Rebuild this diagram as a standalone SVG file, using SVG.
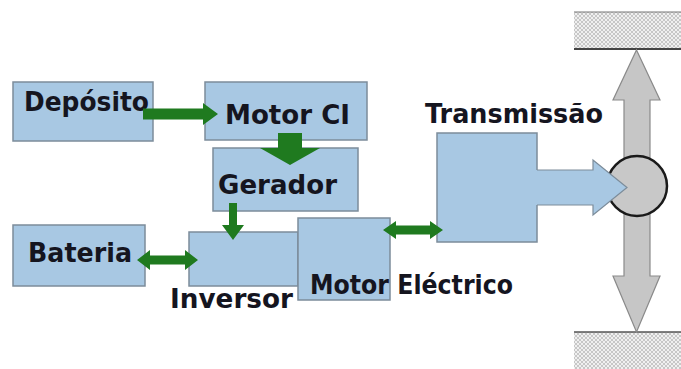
<svg xmlns="http://www.w3.org/2000/svg" width="681" height="369" viewBox="0 0 681 369">
<defs>
<pattern id="hatch" width="4" height="4" patternUnits="userSpaceOnUse">
<rect width="4" height="4" fill="#f0f0f0"/>
<path d="M0,0 L4,4 M4,0 L0,4" stroke="#bdbdbd" stroke-width="0.8"/>
</pattern>
<style>
.box{fill:#a8c8e3;stroke:#7c8c9a;stroke-width:1.5}
.lbl{font-family:"DejaVu Sans",Verdana,sans-serif;font-weight:bold;font-size:27px;fill:#15151f}
.green{fill:#1f7a1f}
.gray{fill:#c6c6c6;stroke:#8a8a8a;stroke-width:1.2}
</style>
</defs>
<rect width="681" height="369" fill="#ffffff"/>

<g id="ground-top">
<rect x="574" y="12" width="107" height="37" fill="url(#hatch)"/>
<line x1="574" y1="12" x2="681" y2="12" stroke="#777" stroke-width="1.2"/>
<line x1="574" y1="49" x2="681" y2="49" stroke="#444" stroke-width="2"/>
</g>
<g id="ground-bottom">
<rect x="574" y="332" width="107" height="37" fill="url(#hatch)"/>
<line x1="574" y1="332" x2="681" y2="332" stroke="#555" stroke-width="1.5"/>
</g>

<g id="axle">
<polygon class="gray" points="636.5,50 660,100 650,100 650,276 660,276 636.5,332 613,276 624,276 624,100 613,100"/>
</g>
<g id="wheel">
<circle cx="637" cy="186" r="30" fill="#c8c8c8" stroke="#1a1a1a" stroke-width="2.5"/>
</g>

<g id="deposito">
<rect class="box" x="13" y="82" width="140" height="59"/>
<text class="lbl" x="24" y="111" textLength="125" lengthAdjust="spacingAndGlyphs">Depósito</text>
</g>
<g id="motor-ci">
<rect class="box" x="205" y="82" width="162" height="58"/>
<text class="lbl" x="225" y="124" textLength="125" lengthAdjust="spacingAndGlyphs">Motor CI</text>
</g>
<g id="gerador">
<rect class="box" x="213" y="148" width="145" height="63"/>
<text class="lbl" x="218" y="194" textLength="119" lengthAdjust="spacingAndGlyphs">Gerador</text>
</g>
<g id="bateria">
<rect class="box" x="13" y="225" width="132" height="61"/>
<text class="lbl" x="28" y="262" textLength="104" lengthAdjust="spacingAndGlyphs">Bateria</text>
</g>
<g id="inversor">
<rect class="box" x="189" y="232" width="109" height="54"/>
<text class="lbl" x="170" y="308" textLength="123" lengthAdjust="spacingAndGlyphs">Inversor</text>
</g>
<g id="motor-electrico">
<rect class="box" x="298" y="218" width="92" height="82"/>
<text class="lbl" x="310" y="294" textLength="203" lengthAdjust="spacingAndGlyphs">Motor Eléctrico</text>
</g>
<g id="transmissao">
<rect class="box" x="437" y="133" width="100" height="109"/>
<text class="lbl" x="425" y="123" textLength="178" lengthAdjust="spacingAndGlyphs">Transmissão</text>
</g>

<g id="connectors">
<polygon class="green" points="143,108.5 203,108.5 203,103 218,114 203,125 203,119.5 143,119.5"/>
<polygon class="green" points="278,133 302,133 302,148 320,148 290,165 260,148 278,148"/>
<polygon class="green" points="229,203 237,203 237,225 244,225 233,240 222,225 229,225"/>
<polygon class="green" points="137,260 150,250 150,255.5 185,255.5 185,250 198,260 185,270 185,264.5 150,264.5 150,270"/>
<polygon class="green" points="383,230 396,221 396,225.5 430,225.5 430,221 443,230 430,239 430,234.5 396,234.5 396,239"/>
<polygon points="536,170 593,170 593,160 627,187.5 593,215 593,205 536,205" fill="#a8c8e3"/>
<polyline points="537,170 593,170 593,160 627,187.5 593,215 593,205 537,205" fill="none" stroke="#7c8c9a" stroke-width="1.2"/>
</g>
</svg>
